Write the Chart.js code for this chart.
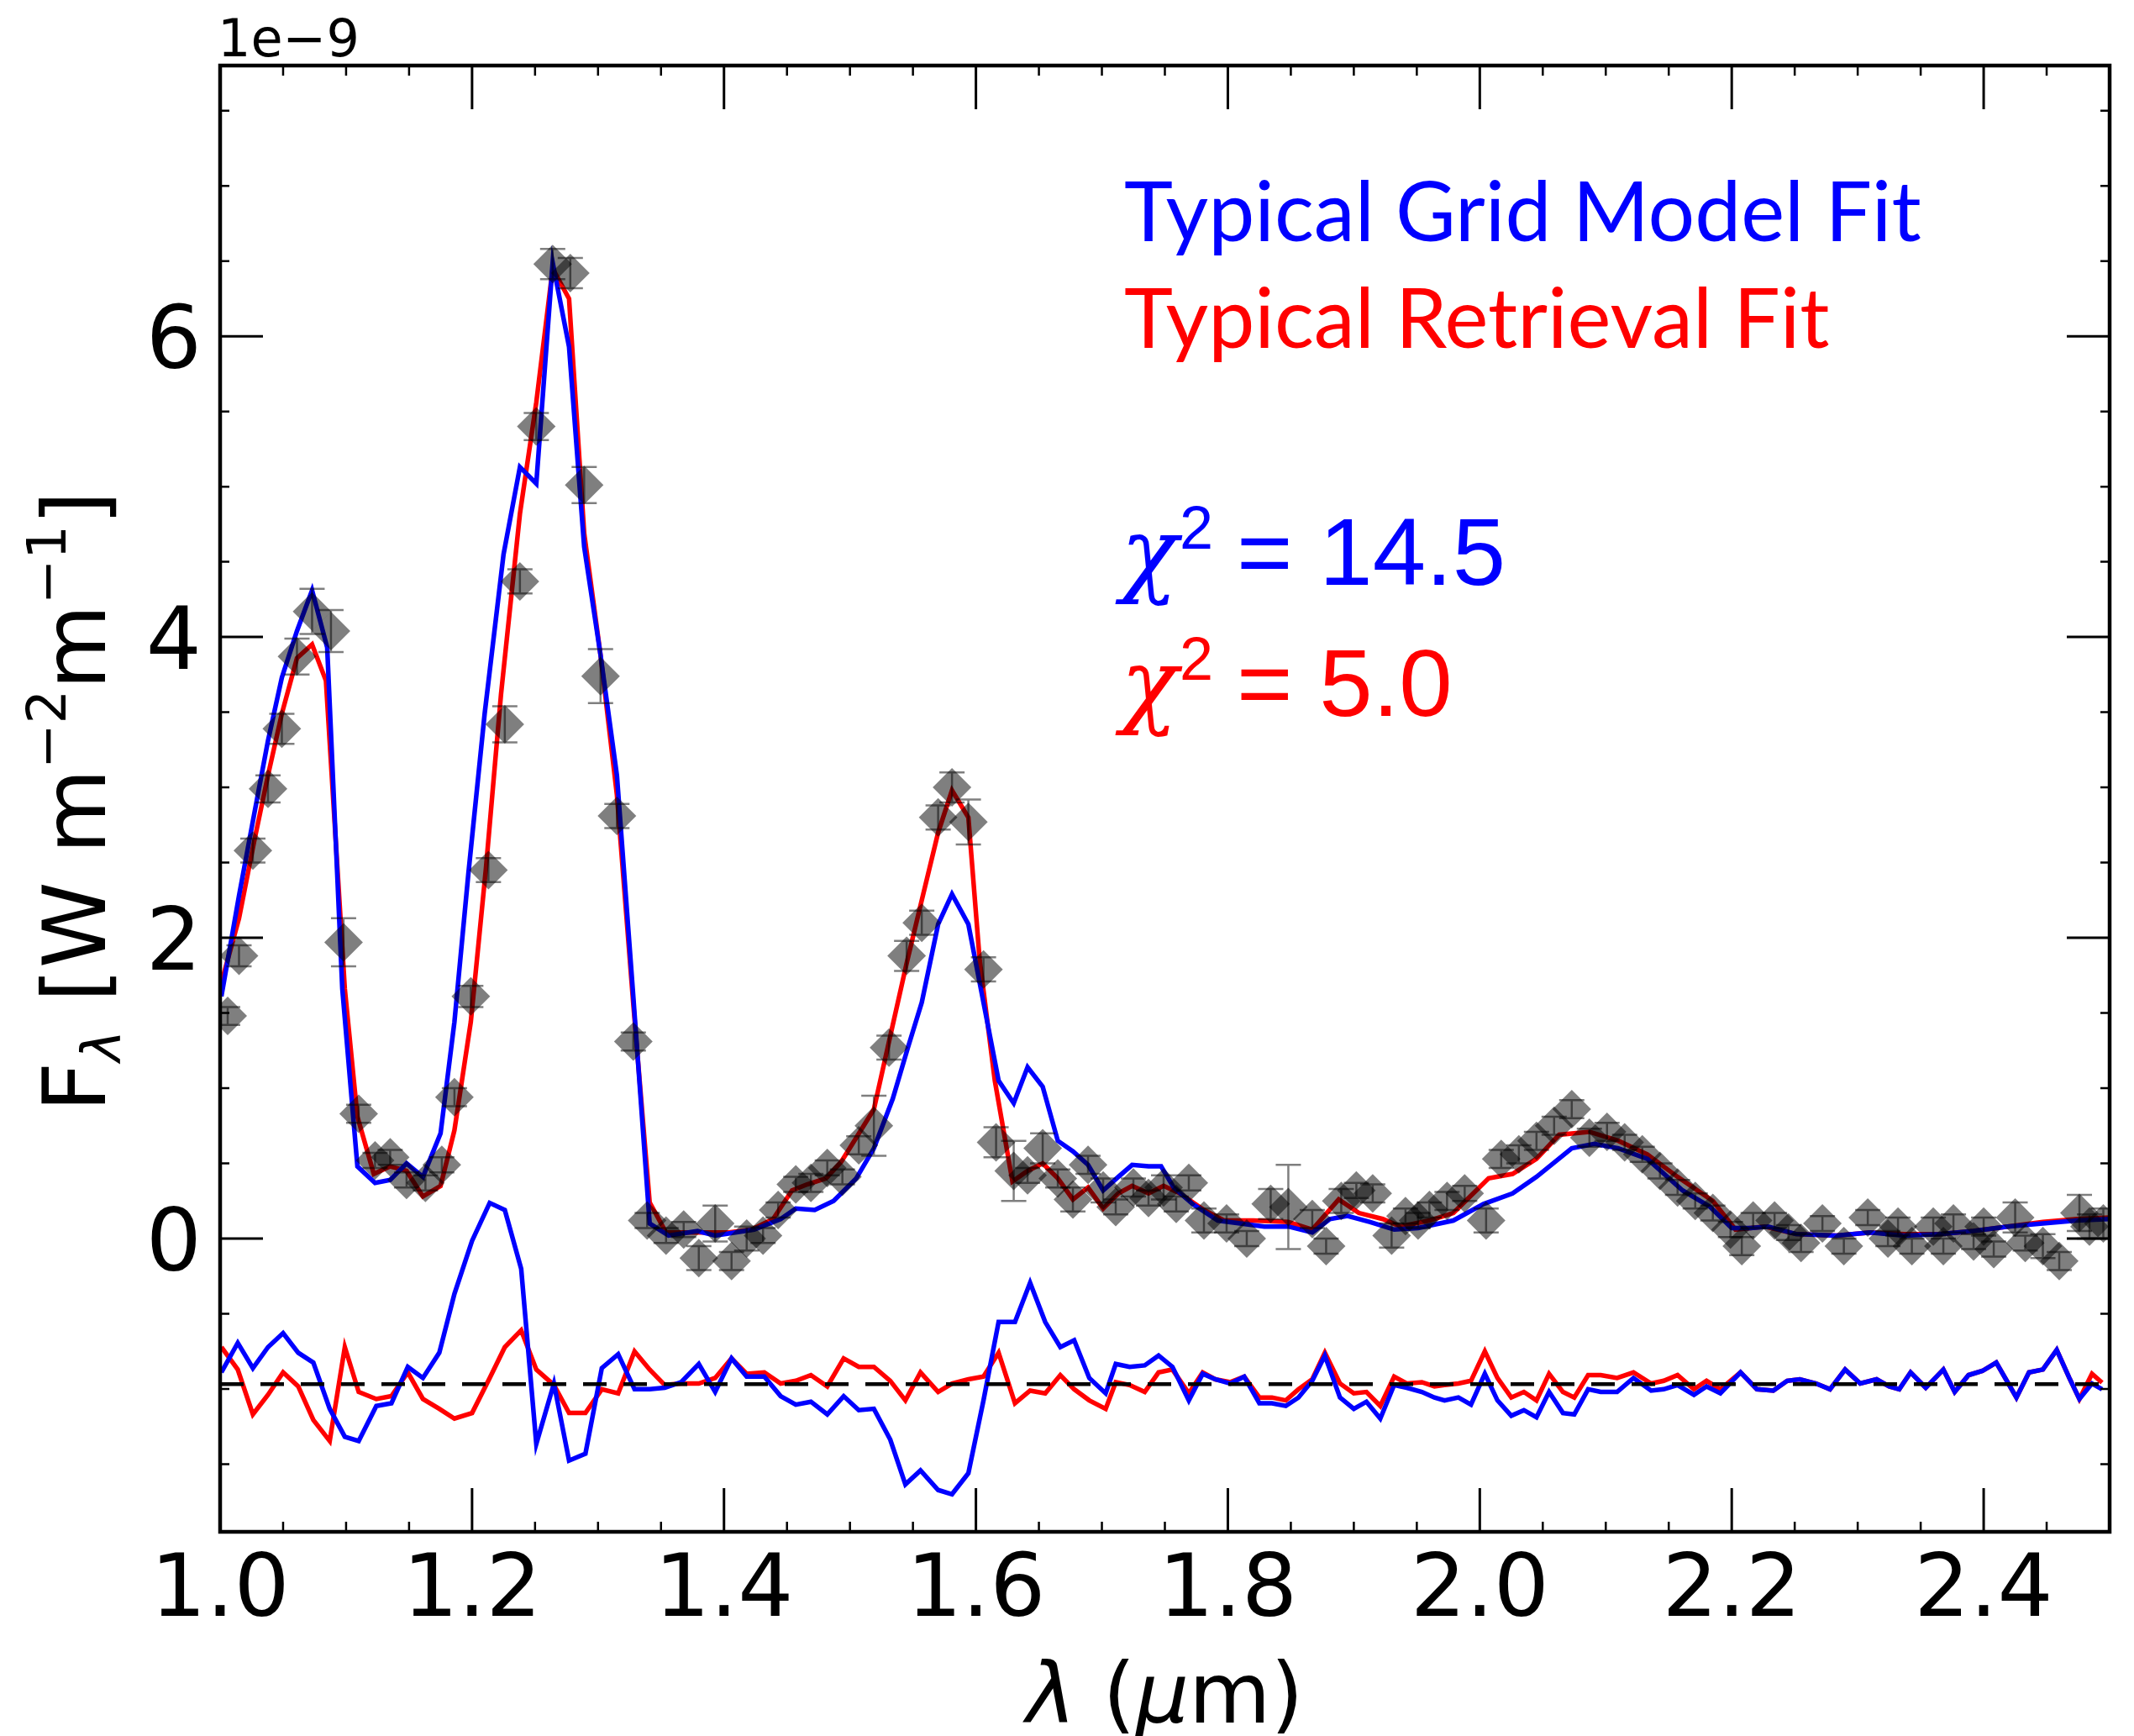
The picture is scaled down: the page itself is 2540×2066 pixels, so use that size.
<!DOCTYPE html>
<html lang="en">
<head>
    <meta charset="UTF-8">
    <title>Spectrum fit</title>
    <script src="https://cdn.jsdelivr.net/npm/chart.js"></script>
    <style>
        html, body {
            margin: 0;
            padding: 0;
            background: #fff;
            overflow: hidden;
        }
        canvas {
            display: block;
        }
    </style>
</head>
<body>
    <canvas id="spectrumChart" width="2540" height="2066"></canvas>

    <script>
        // observed spectrum (flux in units of 1e-9 W m^-2 m^-1)
        const dataLam = [
            1.006, 1.015, 1.026, 1.038, 1.049, 1.061, 1.073, 1.088, 1.098, 1.110,
            1.123, 1.135, 1.148, 1.163, 1.176, 1.186, 1.199, 1.213, 1.226, 1.238,
            1.251, 1.264, 1.278, 1.289, 1.302, 1.315, 1.328, 1.339, 1.354, 1.368,
            1.380, 1.393, 1.406, 1.418, 1.431, 1.443, 1.457, 1.469, 1.482, 1.494,
            1.507, 1.519, 1.531, 1.545, 1.557, 1.570, 1.581, 1.594, 1.606, 1.616,
            1.630, 1.641, 1.653, 1.665, 1.677, 1.689, 1.701, 1.711, 1.725, 1.737,
            1.749, 1.759, 1.769, 1.781, 1.799, 1.815, 1.834, 1.848, 1.867, 1.878,
            1.890, 1.902, 1.915, 1.930, 1.941, 1.951, 1.960, 1.974, 1.988, 2.005,
            2.017, 2.031, 2.045, 2.059, 2.073, 2.087, 2.101, 2.115, 2.129, 2.143,
            2.157, 2.171, 2.185, 2.199, 2.208, 2.217, 2.234, 2.245, 2.255, 2.272,
            2.289, 2.308, 2.324, 2.332, 2.343, 2.360, 2.368, 2.376, 2.392, 2.400,
            2.408, 2.425, 2.433, 2.447, 2.460, 2.476, 2.484, 2.495
        ];
        const dataFlux = [
            1.48, 1.88, 2.58, 2.99, 3.39, 3.87, 4.17, 4.04, 1.97, 0.83,
            0.52, 0.54, 0.39, 0.37, 0.49, 0.94, 1.61, 2.45, 3.42, 4.37,
            5.40, 6.48, 6.42, 5.01, 3.74, 2.81, 1.31, 0.12, 0.02, 0.06,
            -0.13, 0.10, -0.15, 0.00, 0.02, 0.19, 0.36, 0.37, 0.47, 0.41,
            0.62, 0.75, 1.27, 1.88, 2.10, 2.80, 3.00, 2.77, 1.79, 0.64,
            0.45, 0.42, 0.60, 0.40, 0.26, 0.49, 0.32, 0.21, 0.34, 0.27,
            0.34, 0.23, 0.37, 0.12, 0.10, 0.00, 0.23, 0.21, 0.13, -0.05,
            0.25, 0.32, 0.30, 0.02, 0.15, 0.12, 0.19, 0.25, 0.30, 0.12,
            0.53, 0.56, 0.65, 0.75, 0.86, 0.67, 0.71, 0.64, 0.56, 0.45,
            0.34, 0.25, 0.17, 0.06, -0.05, 0.12, 0.12, 0.04, -0.03, 0.10,
            -0.05, 0.14, 0.00, 0.08, -0.05, 0.08, -0.05, 0.10, -0.02, 0.08,
            -0.07, 0.14, -0.03, -0.05, -0.15, 0.17, 0.08, 0.10
        ];
        const dataErr = [
            0.06, 0.07, 0.08, 0.09, 0.10, 0.12, 0.15, 0.14, 0.16, 0.06,
            0.05, 0.05, 0.05, 0.05, 0.05, 0.06, 0.07, 0.08, 0.12, 0.08,
            0.09, 0.10, 0.10, 0.12, 0.18, 0.08, 0.06, 0.05, 0.05, 0.05,
            0.08, 0.12, 0.06, 0.08, 0.05, 0.05, 0.05, 0.06, 0.05, 0.05,
            0.06, 0.20, 0.08, 0.10, 0.08, 0.08, 0.10, 0.15, 0.08, 0.10,
            0.20, 0.05, 0.10, 0.06, 0.08, 0.06, 0.08, 0.05, 0.06, 0.05,
            0.08, 0.05, 0.05, 0.08, 0.06, 0.05, 0.10, 0.28, 0.06, 0.05,
            0.08, 0.05, 0.06, 0.08, 0.05, 0.05, 0.05, 0.06, 0.05, 0.08,
            0.06, 0.06, 0.06, 0.06, 0.06, 0.06, 0.06, 0.05, 0.05, 0.05,
            0.05, 0.05, 0.05, 0.05, 0.06, 0.05, 0.05, 0.05, 0.06, 0.05,
            0.05, 0.05, 0.05, 0.06, 0.05, 0.06, 0.05, 0.06, 0.05, 0.06,
            0.05, 0.10, 0.05, 0.08, 0.06, 0.12, 0.08, 0.10
        ];

        // typical grid model fit (blue)
        const gridLam = [
            1.001, 1.015, 1.027, 1.038, 1.049, 1.061, 1.073, 1.085, 1.097, 1.109,
            1.123, 1.135, 1.148, 1.161, 1.175, 1.186, 1.197, 1.210, 1.225, 1.238,
            1.251, 1.264, 1.277, 1.289, 1.302, 1.315, 1.328, 1.341, 1.356, 1.379,
            1.393, 1.424, 1.445, 1.457, 1.472, 1.487, 1.505, 1.519, 1.534, 1.546,
            1.557, 1.570, 1.581, 1.594, 1.606, 1.618, 1.630, 1.641, 1.653, 1.665,
            1.677, 1.689, 1.701, 1.713, 1.724, 1.737, 1.747, 1.757, 1.772, 1.792,
            1.829, 1.848, 1.867, 1.881, 1.895, 1.913, 1.932, 1.951, 1.979, 2.003,
            2.026, 2.045, 2.073, 2.091, 2.110, 2.133, 2.161, 2.183, 2.200, 2.215,
            2.229, 2.251, 2.283, 2.310, 2.337, 2.365, 2.392, 2.419, 2.447, 2.474,
            2.500
        ];
        const gridFlux = [
            1.61, 2.28, 2.82, 3.31, 3.73, 4.04, 4.31, 3.93, 1.66, 0.48,
            0.37, 0.39, 0.50, 0.41, 0.70, 1.44, 2.42, 3.49, 4.55, 5.13,
            5.02, 6.49, 5.93, 4.60, 3.88, 3.08, 1.61, 0.10, 0.02, 0.05,
            0.02, 0.06, 0.13, 0.20, 0.19, 0.25, 0.40, 0.60, 0.93, 1.27,
            1.57, 2.09, 2.29, 2.09, 1.57, 1.05, 0.90, 1.14, 1.01, 0.65,
            0.58, 0.49, 0.32, 0.41, 0.49, 0.48, 0.48, 0.34, 0.23, 0.12,
            0.08, 0.08, 0.04, 0.13, 0.15, 0.11, 0.06, 0.07, 0.12, 0.23,
            0.30, 0.41, 0.60, 0.63, 0.60, 0.53, 0.32, 0.21, 0.07, 0.07,
            0.08, 0.03, 0.02, 0.04, 0.02, 0.03, 0.05, 0.08, 0.10, 0.12,
            0.13
        ];

        // typical retrieval fit (red)
        const retLam = [
            1.001, 1.015, 1.027, 1.038, 1.049, 1.061, 1.073, 1.084, 1.099, 1.109,
            1.122, 1.135, 1.148, 1.161, 1.175, 1.186, 1.199, 1.211, 1.223, 1.238,
            1.251, 1.264, 1.277, 1.289, 1.302, 1.315, 1.328, 1.341, 1.354, 1.379,
            1.404, 1.422, 1.439, 1.454, 1.466, 1.481, 1.493, 1.505, 1.519, 1.531,
            1.545, 1.557, 1.570, 1.581, 1.594, 1.603, 1.615, 1.629, 1.641, 1.653,
            1.665, 1.677, 1.689, 1.701, 1.713, 1.724, 1.737, 1.749, 1.762, 1.781,
            1.797, 1.820, 1.848, 1.867, 1.888, 1.904, 1.923, 1.937, 1.960, 1.979,
            2.007, 2.026, 2.045, 2.063, 2.087, 2.110, 2.133, 2.157, 2.185, 2.203,
            2.226, 2.251, 2.283, 2.310, 2.337, 2.365, 2.392, 2.419, 2.447, 2.474,
            2.500
        ];
        const retFlux = [
            1.70, 2.13, 2.64, 3.08, 3.49, 3.86, 3.95, 3.71, 1.66, 0.81,
            0.43, 0.48, 0.45, 0.28, 0.35, 0.72, 1.44, 2.46, 3.62, 4.82,
            5.56, 6.45, 6.25, 4.69, 3.88, 2.95, 1.56, 0.24, 0.04, 0.04,
            0.04, 0.06, 0.13, 0.32, 0.36, 0.40, 0.51, 0.67, 0.86, 1.31,
            1.83, 2.25, 2.70, 2.98, 2.80, 1.85, 1.05, 0.38, 0.45, 0.50,
            0.40, 0.26, 0.34, 0.20, 0.30, 0.35, 0.30, 0.35, 0.30, 0.19,
            0.12, 0.12, 0.11, 0.06, 0.26, 0.17, 0.13, 0.08, 0.12, 0.17,
            0.40, 0.43, 0.53, 0.69, 0.71, 0.65, 0.56, 0.41, 0.25, 0.06,
            0.08, 0.03, 0.02, 0.04, 0.03, 0.03, 0.05, 0.08, 0.11, 0.13,
            0.14
        ];

        // residuals, measured from the dashed reference line
        const residLam = [
            1.001, 1.014, 1.026, 1.038, 1.050, 1.062, 1.074, 1.087, 1.099, 1.110,
            1.124, 1.136, 1.149, 1.161, 1.174, 1.186, 1.200, 1.214, 1.226, 1.239,
            1.251, 1.265, 1.277, 1.290, 1.303, 1.316, 1.329, 1.341, 1.353, 1.366,
            1.380, 1.393, 1.406, 1.418, 1.432, 1.445, 1.457, 1.469, 1.482, 1.495,
            1.507, 1.519, 1.532, 1.544, 1.556, 1.570, 1.581, 1.594, 1.606, 1.618,
            1.631, 1.643, 1.655, 1.667, 1.678, 1.690, 1.703,
            1.711, 1.722, 1.734, 1.745, 1.756, 1.769, 1.780, 1.790, 1.802, 1.813,
            1.825, 1.835, 1.846, 1.856, 1.867, 1.877, 1.889, 1.900, 1.910, 1.921,
            1.932, 1.942, 1.954, 1.964, 1.972, 1.983, 1.993, 2.004, 2.014, 2.025,
            2.035, 2.045, 2.055, 2.066, 2.075, 2.086, 2.096, 2.109, 2.122, 2.136,
            2.146, 2.157, 2.170, 2.180, 2.191, 2.207, 2.220, 2.233, 2.244, 2.254,
            2.267, 2.278, 2.290, 2.302, 2.315, 2.325, 2.333, 2.342, 2.354, 2.368,
            2.377, 2.388, 2.399, 2.410, 2.426, 2.436, 2.447, 2.458, 2.468, 2.476,
            2.486, 2.494
        ];
        const gridResid = [
            0.078, 0.274, 0.106, 0.246, 0.339, 0.209, 0.143, -0.164, -0.350, -0.378,
            -0.145, -0.127, 0.115, 0.041, 0.209, 0.600, 0.953, 1.205, 1.158, 0.767,
            -0.397, 0.004, -0.508, -0.462, 0.106, 0.199, -0.034, -0.034, -0.024, 0.013,
            0.134, -0.052, 0.171, 0.050, 0.050, -0.080, -0.136, -0.117, -0.201, -0.080,
            -0.173, -0.164, -0.369, -0.667, -0.574, -0.704, -0.732, -0.592, -0.108, 0.413,
            0.413, 0.674, 0.413, 0.246, 0.292, 0.041, -0.061,
            0.134, 0.115, 0.125, 0.190, 0.115, -0.108, 0.069, 0.032, 0.004, 0.050,
            -0.127, -0.127, -0.145, -0.089, 0.022, 0.190, -0.089, -0.164, -0.117, -0.229,
            -0.006, -0.024, -0.052, -0.089, -0.108, -0.089, -0.136, 0.069, -0.108, -0.210,
            -0.173, -0.220, -0.052, -0.192, -0.201, -0.034, -0.052, -0.052, 0.041, -0.043,
            -0.034, -0.006, -0.071, -0.015, -0.061, 0.078, -0.034, -0.043, 0.022, 0.032,
            0.004, -0.034, 0.097, 0.004, 0.032, -0.015, -0.034, 0.078, -0.024, 0.097,
            -0.052, 0.060, 0.088, 0.143, -0.089, 0.078, 0.097, 0.227, 0.041, -0.099,
            0.004, -0.034
        ];
        const retResid = [
            0.246, 0.097, -0.201, -0.071, 0.078, -0.015, -0.238, -0.378, 0.246, -0.052,
            -0.099, -0.080, 0.078, -0.099, -0.164, -0.229, -0.192, 0.041, 0.246, 0.358,
            0.097, -0.006, -0.192, -0.192, -0.034, -0.061, 0.218, 0.097, -0.006, 0.004,
            0.004, 0.041, 0.171, 0.069, 0.078, 0.004, 0.022, 0.060, -0.015, 0.171,
            0.115, 0.115, 0.022, -0.108, 0.078, -0.052, 0.004, 0.032, 0.050, 0.209,
            -0.127, -0.043, -0.061, 0.060, -0.034, -0.108, -0.164,
            0.013, -0.006, -0.052, 0.078, 0.097, -0.061, 0.078, 0.032, 0.013, 0.050,
            -0.089, -0.089, -0.108, -0.034, 0.032, 0.209, 0.004, -0.061, -0.052, -0.145,
            0.050, 0.004, 0.013, -0.015, -0.006, 0.004, 0.022, 0.218, 0.041, -0.089,
            -0.052, -0.108, 0.069, -0.052, -0.089, 0.060, 0.060, 0.041, 0.078, 0.004,
            0.022, 0.060, -0.034, 0.022, -0.034, 0.078, -0.034, -0.043, 0.022, 0.032,
            0.004, -0.034, 0.097, 0.004, 0.032, -0.015, -0.034, 0.078, -0.024, 0.097,
            -0.052, 0.060, 0.088, 0.143, -0.089, 0.078, 0.097, 0.227, 0.041, -0.099,
            0.069, 0.010
        ];
        const RESID_ZERO = -0.968;

        const chiLabels = ["14.5", "5.0"];
        const fitLabels = ["Typical Grid Model Fit", "Typical Retrieval Fit"];

        const X_MIN = 1.0, X_MAX = 2.5, Y_MIN = -1.95, Y_MAX = 7.8;
        const X_MINOR = 0.05, Y_MINOR = 0.5;
        const BLUE = "#0000ff", RED = "#ff0000";
        const LINE_W = 5.5;

        function toPoints(xs, ys, offset = 0) {
            return xs.map((x, i) => ({ x: x, y: ys[i] + offset }));
        }

        function drawRuns(ctx, runs, x, y) {
            let cx = x;
            runs.forEach(r => {
                ctx.font = r.font;
                ctx.fillText(r.t, cx, y + (r.dy || 0));
                cx += ctx.measureText(r.t).width;
            });
            return cx - x;
        }

        function runsWidth(ctx, runs) {
            let w = 0;
            runs.forEach(r => {
                ctx.font = r.font;
                w += ctx.measureText(r.t).width;
            });
            return w;
        }

        // error bars for the observed points
        const errorBars = {
            id: "errorBars",
            afterDatasetsDraw(chart) {
                const { ctx, chartArea: a, scales: { x, y } } = chart;
                ctx.save();
                ctx.beginPath();
                ctx.rect(a.left, a.top, a.width, a.height);
                ctx.clip();
                ctx.strokeStyle = "rgba(0,0,0,0.5)";
                ctx.lineWidth = 2.5;
                dataLam.forEach((l, i) => {
                    const px = x.getPixelForValue(l);
                    const y0 = y.getPixelForValue(dataFlux[i] - dataErr[i]);
                    const y1 = y.getPixelForValue(dataFlux[i] + dataErr[i]);
                    ctx.beginPath();
                    ctx.moveTo(px, y0);
                    ctx.lineTo(px, y1);
                    ctx.moveTo(px - 15, y0);
                    ctx.lineTo(px + 15, y0);
                    ctx.moveTo(px - 15, y1);
                    ctx.lineTo(px + 15, y1);
                    ctx.stroke();
                });
                ctx.restore();
            }
        };

        // matplotlib-like frame, inward ticks, labels and annotations
        const axisDecor = {
            id: "axisDecor",
            afterDraw(chart) {
                const { ctx, chartArea: a, scales: { x, y } } = chart;
                ctx.save();
                ctx.strokeStyle = "#000";
                ctx.fillStyle = "#000";

                const majorX = x.ticks.map(t => t.value).filter(v => v >= X_MIN - 1e-9 && v <= X_MAX + 1e-9);
                const majorY = y.ticks.map(t => t.value).filter(v => v >= Y_MIN && v <= Y_MAX);

                const nx = Math.round((X_MAX - X_MIN) / X_MINOR);
                for (let k = 1; k < nx; k++) {
                    const v = X_MIN + k * X_MINOR;
                    const major = majorX.some(m => Math.abs(m - v) < 1e-6);
                    const len = major ? 52 : 12;
                    const px = x.getPixelForValue(v);
                    ctx.lineWidth = major ? 3 : 2.5;
                    ctx.beginPath();
                    ctx.moveTo(px, a.bottom);
                    ctx.lineTo(px, a.bottom - len);
                    ctx.moveTo(px, a.top);
                    ctx.lineTo(px, a.top + len);
                    ctx.stroke();
                }
                const k0 = Math.ceil(Y_MIN / Y_MINOR), k1 = Math.floor(Y_MAX / Y_MINOR);
                for (let k = k0; k <= k1; k++) {
                    const v = k * Y_MINOR;
                    const major = majorY.some(m => Math.abs(m - v) < 1e-6);
                    const len = major ? 51 : 11;
                    const py = y.getPixelForValue(v);
                    ctx.lineWidth = major ? 3 : 2.5;
                    ctx.beginPath();
                    ctx.moveTo(a.left, py);
                    ctx.lineTo(a.left + len, py);
                    ctx.moveTo(a.right, py);
                    ctx.lineTo(a.right - len, py);
                    ctx.stroke();
                }

                ctx.lineWidth = 4.5;
                ctx.strokeRect(a.left, a.top, a.width, a.height);

                // tick labels
                ctx.font = '104px "DejaVu Sans"';
                ctx.textBaseline = "alphabetic";
                ctx.textAlign = "center";
                majorX.forEach(v => {
                    ctx.fillText(v.toFixed(1), x.getPixelForValue(v), a.bottom + 100);
                });
                ctx.textAlign = "right";
                majorY.forEach(v => {
                    ctx.fillText(String(Math.round(v)), a.left - 22, y.getPixelForValue(v) + 38);
                });

                ctx.textAlign = "left";
                ctx.font = '62px "DejaVu Sans"';
                ctx.fillText("1e\u22129", a.left - 3, a.top - 11);

                // x axis title
                const xRuns = [
                    { t: "\u03bb", font: 'italic 100px "DejaVu Sans"' },
                    { t: " (", font: '100px "DejaVu Sans"' },
                    { t: "\u03bc", font: 'italic 100px "DejaVu Sans"' },
                    { t: "m)", font: '100px "DejaVu Sans"' }
                ];
                const xw = runsWidth(ctx, xRuns);
                drawRuns(ctx, xRuns, (a.left + a.right) / 2 - xw / 2, 2050);

                // y axis title
                const main = '104px "DejaVu Sans"', script = '64px "DejaVu Sans"';
                const yRuns = [
                    { t: "F", font: main },
                    { t: "\u03bb", font: 'italic ' + script, dy: 18 },
                    { t: " [W m", font: main },
                    { t: "\u22122", font: script, dy: -47 },
                    { t: "m", font: main },
                    { t: "\u22121", font: script, dy: -47 },
                    { t: "]", font: main }
                ];
                const yw = runsWidth(ctx, yRuns);
                ctx.save();
                ctx.translate(125, 954);
                ctx.rotate(-Math.PI / 2);
                drawRuns(ctx, yRuns, -yw / 2, 0);
                ctx.restore();

                // legend-like labels
                ctx.font = '100px Lato';
                const fs = 100 * 949 / ctx.measureText(fitLabels[0]).width;
                ctx.font = fs.toFixed(1) + 'px Lato';
                ctx.fillStyle = BLUE;
                ctx.fillText(fitLabels[0], 1338, 287);
                ctx.fillStyle = RED;
                ctx.fillText(fitLabels[1], 1338, 414);

                // chi-square labels
                const chiRows = [
                    { color: BLUE, base: 696, value: chiLabels[0] },
                    { color: RED, base: 852, value: chiLabels[1] }
                ];
                chiRows.forEach(r => {
                    ctx.fillStyle = r.color;
                    ctx.font = 'italic 112px "DejaVu Serif"';
                    ctx.fillText("\u03c7", 1334, r.base);
                    ctx.font = '72px "Liberation Sans"';
                    ctx.fillText("2", 1404, r.base - 43);
                    ctx.font = '114px "Liberation Sans"';
                    ctx.fillText("= " + r.value, 1472, r.base);
                });

                ctx.restore();
            }
        };

        const ctx = document.getElementById("spectrumChart").getContext("2d");
        new Chart(ctx, {
            type: "scatter",
            data: {
                datasets: [
                    {
                        label: "Data",
                        data: toPoints(dataLam, dataFlux),
                        pointStyle: "rectRot",
                        pointRadius: 23,
                        pointBackgroundColor: "rgba(0,0,0,0.5)",
                        pointBorderWidth: 0,
                        showLine: false,
                        clip: 0,
                        order: 0
                    },
                    {
                        label: "Zero",
                        data: [{ x: X_MIN, y: RESID_ZERO }, { x: X_MAX, y: RESID_ZERO }],
                        showLine: true,
                        borderColor: "#000",
                        borderWidth: 4.5,
                        borderDash: [28, 20],
                        pointRadius: 0,
                        clip: 0,
                        order: 1
                    },
                    {
                        label: "Typical Grid Model Fit",
                        data: toPoints(gridLam, gridFlux),
                        showLine: true,
                        borderColor: BLUE,
                        borderWidth: LINE_W,
                        pointRadius: 0,
                        tension: 0,
                        clip: 0,
                        order: 2
                    },
                    {
                        label: "Typical Retrieval Fit",
                        data: toPoints(retLam, retFlux),
                        showLine: true,
                        borderColor: RED,
                        borderWidth: LINE_W,
                        pointRadius: 0,
                        tension: 0,
                        clip: 0,
                        order: 3
                    },
                    {
                        label: "Grid residual",
                        data: toPoints(residLam, gridResid, RESID_ZERO),
                        showLine: true,
                        borderColor: BLUE,
                        borderWidth: LINE_W,
                        pointRadius: 0,
                        tension: 0,
                        clip: 0,
                        order: 4
                    },
                    {
                        label: "Retrieval residual",
                        data: toPoints(residLam, retResid, RESID_ZERO),
                        showLine: true,
                        borderColor: RED,
                        borderWidth: LINE_W,
                        pointRadius: 0,
                        tension: 0,
                        clip: 0,
                        order: 5
                    }
                ]
            },
            options: {
                responsive: false,
                devicePixelRatio: 1,
                animation: false,
                layout: { padding: { top: 78, right: 29, left: 0, bottom: 0 } },
                plugins: {
                    legend: { display: false },
                    tooltip: { enabled: false }
                },
                scales: {
                    x: {
                        type: "linear",
                        min: X_MIN,
                        max: X_MAX,
                        ticks: { display: false, stepSize: 0.2, includeBounds: false },
                        grid: { display: false, drawTicks: false },
                        border: { display: false },
                        afterFit(scale) { scale.height = 243; }
                    },
                    y: {
                        type: "linear",
                        min: Y_MIN,
                        max: Y_MAX,
                        ticks: { display: false, stepSize: 2, includeBounds: false },
                        grid: { display: false, drawTicks: false },
                        border: { display: false },
                        afterFit(scale) { scale.width = 262; }
                    }
                }
            },
            plugins: [errorBars, axisDecor]
        });
    </script>
</body>
</html>
